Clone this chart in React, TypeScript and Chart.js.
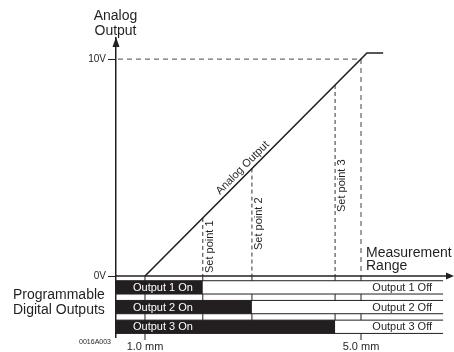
import { useEffect, useRef } from "react";
import { Chart, registerables } from "chart.js";

Chart.register(...registerables);

const FONT = '"Liberation Sans", Arial, Helvetica, sans-serif';
const INK = "#231f20";

// ---- data ----
const analogMM = [1.0, 5.11, 5.41];
const analogV = [0, 10.28, 10.28];
const xTickValues = [1.0, 5.0];
const xTickLabels = ["1.0 mm", "5.0 mm"];
const yTickValues = [0, 10];
const yTickLabels = ["0V", "10V"];
const fullScaleMM = 5.0;
const fullScaleV = 10;
const setPointMM = [2.07, 2.98, 4.52];
const setPointLabels = ["Set point 1", "Set point 2", "Set point 3"];
const setPointLabelV = [0.14, 1.2, 2.95];
const outputOnLabels = ["Output 1 On", "Output 2 On", "Output 3 On"];
const outputOffLabels = ["Output 1 Off", "Output 2 Off", "Output 3 Off"];
const rangeEndMM = 6.52;
const analogLabelMM = 2.9;
const xMin = 0.463;
const xMax = 6.722;
const yMin = -2.81;
const yMax = 10.97;

// ---- layout (pixels) ----
const ROW_OFFSET = 4.7;
const ROW_H = 13.3;
const ROW_PITCH = 19.7;

function interpV(mm: number): number {
  for (let i = 0; i < analogMM.length - 1; i++) {
    if (mm >= analogMM[i] && mm <= analogMM[i + 1]) {
      const t = (mm - analogMM[i]) / (analogMM[i + 1] - analogMM[i]);
      return analogV[i] + t * (analogV[i + 1] - analogV[i]);
    }
  }
  return analogV[analogV.length - 1];
}

function seg(ctx: CanvasRenderingContext2D, x1: number, y1: number, x2: number, y2: number) {
  ctx.beginPath();
  ctx.moveTo(x1, y1);
  ctx.lineTo(x2, y2);
  ctx.stroke();
}

const diagramPlugin = {
  id: "diagram",
  beforeDatasetsDraw(chart: any) {
    const { ctx, chartArea } = chart;
    const xs = chart.scales.x;
    const ys = chart.scales.y;
    const X = (v: number) => xs.getPixelForValue(v);
    const Y = (v: number) => ys.getPixelForValue(v);
    const y0 = Y(0);
    const left = chartArea.left;
    const lastRowBottom = y0 + ROW_OFFSET + 2 * ROW_PITCH + ROW_H;
    ctx.save();

    // 10V reference dashed line
    ctx.strokeStyle = "#6d6e71";
    ctx.lineWidth = 1.3;
    ctx.setLineDash([5, 4]);
    seg(ctx, left + 2, Y(fullScaleV), X(fullScaleMM), Y(fullScaleV));
    seg(ctx, X(fullScaleMM), Y(fullScaleV), X(fullScaleMM), y0);

    // set point dashed lines
    ctx.strokeStyle = "#333";
    ctx.lineWidth = 1;
    ctx.setLineDash([4, 3]);
    setPointMM.forEach((sp) => {
      seg(ctx, X(sp), Y(interpV(sp)), X(sp), y0);
    });
    ctx.setLineDash([]);

    // solid verticals through the output band
    ctx.strokeStyle = INK;
    ctx.lineWidth = 1;
    xTickValues.forEach((v) => seg(ctx, X(v), y0, X(v), chartArea.bottom + 3));
    setPointMM.forEach((v) => seg(ctx, X(v), y0, X(v), lastRowBottom));

    // output bars
    for (let i = 0; i < 3; i++) {
      const top = y0 + ROW_OFFSET + i * ROW_PITCH;
      const xs1 = X(setPointMM[i]);
      const xe = X(rangeEndMM);
      ctx.fillStyle = INK;
      ctx.fillRect(left, top, xs1 - left, ROW_H);
      ctx.fillStyle = "#ffffff";
      ctx.fillRect(xs1, top, xe - xs1, ROW_H);
      ctx.strokeStyle = INK;
      ctx.lineWidth = 1;
      seg(ctx, left, top, xe, top);
      seg(ctx, left, top + ROW_H, xe, top + ROW_H);
      ctx.font = `11px ${FONT}`;
      ctx.textBaseline = "middle";
      ctx.fillStyle = "#ffffff";
      ctx.textAlign = "left";
      ctx.fillText(outputOnLabels[i], left + 17, top + ROW_H / 2 + 0.5);
      ctx.fillStyle = INK;
      ctx.textAlign = "right";
      ctx.fillText(outputOffLabels[i], xe - 11, top + ROW_H / 2 + 0.5);
    }

    // x axis with arrow
    ctx.strokeStyle = INK;
    ctx.lineWidth = 1.5;
    seg(ctx, left, y0, chartArea.right - 5, y0);
    ctx.fillStyle = INK;
    ctx.beginPath();
    ctx.moveTo(chartArea.right, y0);
    ctx.lineTo(chartArea.right - 8, y0 - 3.5);
    ctx.lineTo(chartArea.right - 8, y0 + 3.5);
    ctx.closePath();
    ctx.fill();

    ctx.restore();
  },
  afterDraw(chart: any) {
    const { ctx, chartArea } = chart;
    const xs = chart.scales.x;
    const ys = chart.scales.y;
    const X = (v: number) => xs.getPixelForValue(v);
    const Y = (v: number) => ys.getPixelForValue(v);
    const y0 = Y(0);
    const left = chartArea.left;
    ctx.save();

    // y arrow head
    ctx.fillStyle = INK;
    ctx.beginPath();
    ctx.moveTo(left, chartArea.top - 1);
    ctx.lineTo(left - 3.5, chartArea.top + 9);
    ctx.lineTo(left + 3.5, chartArea.top + 9);
    ctx.closePath();
    ctx.fill();

    ctx.fillStyle = INK;
    ctx.textBaseline = "alphabetic";
    ctx.font = `14px ${FONT}`;
    ctx.textAlign = "center";
    ctx.fillText("Analog", left - 0.5, chartArea.top - 18.5);
    ctx.fillText("Output", left - 0.5, chartArea.top - 3.5);

    ctx.textAlign = "left";
    ctx.fillText("Measurement", X(fullScaleMM) + 5, y0 - 19);
    ctx.fillText("Range", X(fullScaleMM) + 5, y0 - 6);

    ctx.fillText("Programmable", 13, y0 + 23);
    ctx.fillText("Digital Outputs", 13, y0 + 38);

    ctx.font = `7px ${FONT}`;
    ctx.textAlign = "right";
    ctx.textBaseline = "middle";
    ctx.fillText("0016A003", left - 5, chartArea.bottom + 5.5);

    // set point labels
    ctx.font = `11px ${FONT}`;
    setPointMM.forEach((sp, i) => {
      ctx.save();
      ctx.translate(X(sp) + 7, Y(setPointLabelV[i]));
      ctx.rotate(-Math.PI / 2);
      ctx.textAlign = "left";
      ctx.textBaseline = "middle";
      ctx.fillText(setPointLabels[i], 0, 0);
      ctx.restore();
    });

    // analog output label along the line
    const ax = X(analogLabelMM);
    const ay = Y(interpV(analogLabelMM));
    const ang = Math.atan2(
      Y(analogV[1]) - Y(analogV[0]),
      X(analogMM[1]) - X(analogMM[0])
    );
    ctx.save();
    ctx.translate(ax, ay);
    ctx.rotate(ang);
    ctx.textAlign = "center";
    ctx.textBaseline = "middle";
    ctx.font = `11px ${FONT}`;
    ctx.fillText("Analog Output", 0, -7);
    ctx.restore();

    ctx.restore();
  },
};

export default function App() {
  const canvasRef = useRef<HTMLCanvasElement | null>(null);

  useEffect(() => {
    document.body.style.margin = "0";
    const canvas = canvasRef.current;
    if (!canvas) return;
    const chart = new Chart(canvas, {
      type: "scatter",
      data: {
        datasets: [
          {
            data: analogMM.map((m, i) => ({ x: m, y: analogV[i] })),
            showLine: true,
            borderColor: INK,
            borderWidth: 1.6,
            pointRadius: 0,
            tension: 0,
          },
        ],
      },
      options: {
        animation: false,
        responsive: false,
        devicePixelRatio: 1,
        events: [],
        layout: { padding: { left: 0, right: 0, top: 38, bottom: 0 } },
        plugins: {
          legend: { display: false },
          tooltip: { enabled: false },
        },
        scales: {
          x: {
            type: "linear",
            position: "bottom",
            min: xMin,
            max: xMax,
            afterBuildTicks: (scale: any) => {
              scale.ticks = xTickValues.map((v) => ({ value: v }));
            },
            afterFit: (scale: any) => {
              scale.height = 15;
            },
            grid: { display: false, drawTicks: false },
            border: { display: false },
            ticks: {
              padding: 3,
              maxRotation: 0,
              autoSkip: false,
              color: INK,
              font: { family: FONT, size: 11 },
              callback: (v: any) => {
                const i = xTickValues.indexOf(Number(v));
                return i >= 0 ? xTickLabels[i] : "";
              },
            },
          },
          y: {
            type: "linear",
            min: yMin,
            max: yMax,
            afterBuildTicks: (scale: any) => {
              scale.ticks = yTickValues.map((v) => ({ value: v }));
            },
            afterFit: (scale: any) => {
              scale.width = 116;
            },
            grid: {
              display: true,
              drawOnChartArea: false,
              drawTicks: true,
              tickLength: 8,
              color: INK,
              lineWidth: 1,
            },
            border: { display: true, color: INK, width: 1.5 },
            ticks: {
              padding: 2,
              autoSkip: false,
              color: INK,
              font: { family: FONT, size: 10 },
              callback: (v: any) => {
                const i = yTickValues.indexOf(Number(v));
                return i >= 0 ? yTickLabels[i] : "";
              },
            },
          },
        },
      },
      plugins: [diagramPlugin],
    } as any);
    return () => chart.destroy();
  }, []);

  return (
    <div style={{ width: 454, height: 352 }}>
      <canvas ref={canvasRef} width={454} height={352} style={{ display: "block" }} />
    </div>
  );
}
